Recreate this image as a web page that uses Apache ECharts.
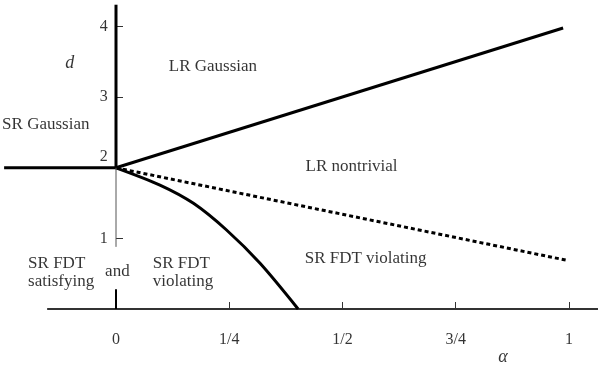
<!DOCTYPE html>
<html>
<head>
<meta charset="utf-8">
<script src="https://cdn.jsdelivr.net/npm/echarts@6/dist/echarts.min.js"></script>
<style>html,body{margin:0;padding:0;background:#fff;}#c{width:598px;height:378px;}</style>
</head>
<body>
<div id="c"></div>
<script>
// ---- data ----
const xTicks = [0, 0.25, 0.5, 0.75, 1];
const xTickLabels = ['0', '1/4', '1/2', '3/4', '1'];
const yTicks = [1, 2, 3, 4];
const yTickLabels = ['1', '2', '3', '4'];
// boundary LR Gaussian / LR nontrivial
const lrGaussianBoundary = [[0, 2], [0.987, 3.98]];
// dashed boundary LR nontrivial / SR FDT violating
const lrNontrivialBoundary = [[0, 2], [0.995, 0.69]];
// curved boundary SR FDT violating
const srCurveBoundary = [[0, 2], [0.097, 1.756], [0.171, 1.497], [0.244, 1.119], [0.318, 0.647], [0.402, 0]];
// d = 2 horizontal boundary for alpha < 0
const srGaussianBoundary = [[-0.247, 2], [0, 2]];
// alpha = 0 vertical boundary
const verticalUpper = [[0, 4.31], [0, 2]];
const verticalLowerThin = [[0, 2], [0, 0.88]];
const verticalLowerThick = [[0, 0.28], [0, 0]];
const baseLine = [[-0.152, 0], [1.064, 0]];
// region labels [alpha, d, text]
const regionLabels = [
  [0.214, 3.43, 'LR Gaussian'],
  [-0.155, 2.61, 'SR Gaussian'],
  [0.52, 2.02, 'LR nontrivial'],
  [0.551, 0.718, 'SR FDT violating'],
  [0.003, 0.528, 'and']
];
const leftLabels = [
  [-0.194, 0.52, 'SR FDT\nsatisfying'],
  [0.081, 0.52, 'SR FDT\nviolating']
];
const axisNameLabels = [[-0.102, 3.48, 'd'], [0.854, -0.68, 'α']];

// ---- chart ----
const FONT = '"Liberation Serif", "DejaVu Serif", serif';
const X_LABEL_D = -0.44;      // d level of the alpha tick labels
const Y_LABEL_ALPHA = -0.018; // alpha level (right edge) of the d tick labels
const chart = echarts.init(document.getElementById('c'));
function lineSeries(data, width, color, type) {
  return {
    type: 'line', data: data, symbol: 'none', silent: true,
    lineStyle: { width: width, color: color, type: type || 'solid', cap: 'butt' }
  };
}
function textSeries(items, align, style) {
  return {
    type: 'scatter', symbolSize: 0, silent: true,
    data: items.map(d => ({ value: [d[0], d[1]], name: d[2] })),
    label: Object.assign({
      show: true, position: 'inside', formatter: p => p.name,
      color: '#000', fontFamily: FONT, fontSize: 17, align: align, verticalAlign: 'middle', lineHeight: 18
    }, style || {})
  };
}
const xLabelItems = xTicks.map((t, i) => [t, X_LABEL_D, xTickLabels[i]]);
const yLabelItems = yTicks.map((t, i) => [Y_LABEL_ALPHA, t === 2 ? 2.15 : t, yTickLabels[i]]);
chart.setOption({
  animation: false,
  grid: { left: 0, right: 0, top: 0, bottom: 0, containLabel: false, outerBoundsMode: 'none' },
  xAxis: {
    type: 'value', min: -116 / 453, max: 482 / 453,
    axisLine: { show: true, onZero: true, lineStyle: { color: 'rgba(0,0,0,0)' } },
    splitLine: { show: false },
    axisTick: { show: true, inside: true, length: 7, customValues: xTicks.slice(1), lineStyle: { color: '#333', width: 1 } },
    axisLabel: { show: false }
  },
  yAxis: {
    type: 'value', min: -69 / 70.6, max: 309 / 70.6,
    axisLine: { show: true, onZero: true, lineStyle: { color: 'rgba(0,0,0,0)' } },
    splitLine: { show: false },
    axisTick: { show: true, inside: true, length: 7, customValues: [1, 3, 4], lineStyle: { color: '#333', width: 1 } },
    axisLabel: { show: false }
  },
  series: [
    lineSeries(baseLine, 2, '#333'),
    lineSeries(lrGaussianBoundary, 3, '#000'),
    lineSeries(lrNontrivialBoundary, 3, '#000', [4, 3]),
    Object.assign(lineSeries(srCurveBoundary, 3, '#000'), { smooth: 0.3 }),
    lineSeries(srGaussianBoundary, 3, '#000'),
    lineSeries(verticalUpper, 3, '#000'),
    lineSeries(verticalLowerThin, 1, '#555'),
    lineSeries(verticalLowerThick, 2, '#000'),
    textSeries(regionLabels, 'center'),
    textSeries(leftLabels, 'left'),
    textSeries(xLabelItems, 'center', { fontSize: 16 }),
    textSeries(yLabelItems, 'right', { fontSize: 16 }),
    textSeries(axisNameLabels, 'center', { fontStyle: 'italic', fontSize: 18 })
  ]
});
</script>
</body>
</html>
